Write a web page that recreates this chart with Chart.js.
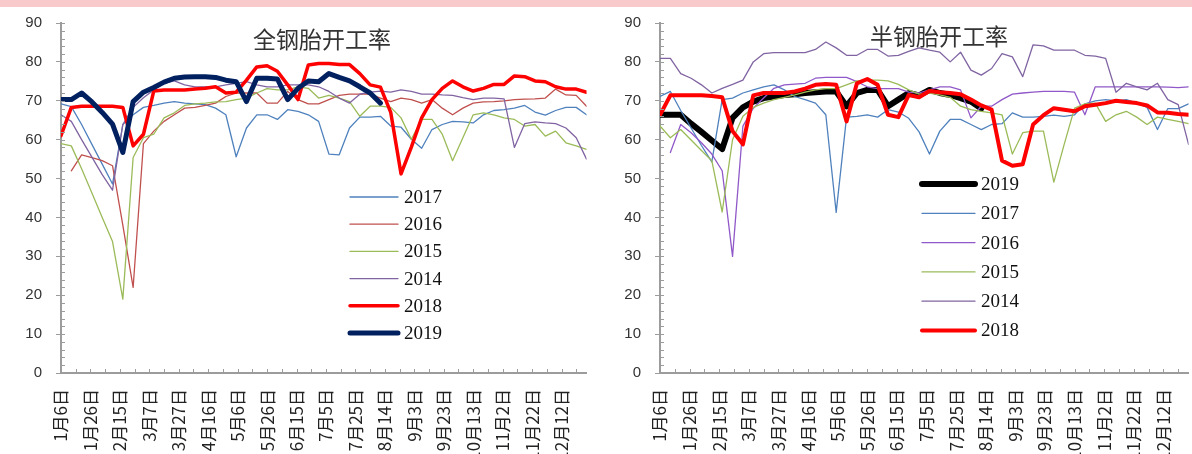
<!DOCTYPE html>
<html>
<head>
<meta charset="utf-8">
<script src="https://cdn.jsdelivr.net/npm/chart.js"></script>
<style>
    html, body { margin: 0; padding: 0; overflow: hidden; background: #fff; }
    body { position: relative; width: 1192px; height: 454px; }
    #band { position: absolute; left: 0; top: 0; width: 1192px; height: 7px; background: #F8CACC; z-index: 2; }
    canvas { position: absolute; top: 0; }
</style>
</head>
<body>
<div id="band"></div>
<canvas id="allSteelChart" width="598" height="454" style="left:0"></canvas>
<canvas id="semiSteelChart" width="600" height="454" style="left:600px"></canvas>
<script>
// Semanas (dia do ano) e rótulos do eixo X
const weekDays = [6, 13, 20, 27, 34, 41, 48, 55, 62, 69, 76, 83, 90, 97, 104, 111, 118, 125, 132, 139,
    146, 153, 160, 167, 174, 181, 188, 195, 202, 209, 216, 223, 230, 237, 244, 251, 258, 265, 272, 279,
    286, 293, 300, 307, 314, 321, 328, 335, 342, 349, 356, 363];
const tickDays = [6, 26, 46, 66, 86, 106, 126, 146, 166, 186, 206, 226, 246, 266, 286, 306, 326, 346];
const tickLabels = ['1月6日', '1月26日', '2月15日', '3月7日', '3月27日', '4月16日', '5月6日', '5月26日', '6月15日',
    '7月5日', '7月25日', '8月14日', '9月3日', '9月23日', '10月13日', '11月2日', '11月22日', '12月12日'];
const yTicks = [0, 10, 20, 30, 40, 50, 60, 70, 80, 90];

// 全钢胎开工率
const all2017 = [69.2, 68.5, 63.9, 58.8, 53.7, 48.6, 63.9, 66.4, 68.3, 68.8, 69.4, 69.8, 69.4, 69.2, 69.0, 68.1, 66.4, 55.6, 63.0, 66.4,
    66.4, 65.2, 67.7, 67.3, 66.4, 64.7, 56.3, 56.1, 63.0, 65.8, 65.8, 66.0, 63.5, 63.2, 60.1, 57.8, 62.6, 63.9, 64.7, 64.6,
    64.3, 66.4, 67.5, 67.7, 68.1, 68.8, 67.1, 66.3, 67.5, 68.3, 68.3, 66.4];
const all2016 = [null, 52.0, 56.1, 55.4, 54.6, 53.3, 38.0, 22.0, 59.0, 62.2, 64.7, 66.4, 68.1, 68.3, 68.8, 69.4, 71.1, 72.0, 72.0, 72.0,
    69.4, 69.4, 72.4, 70.3, 69.2, 69.2, 70.3, 71.4, 71.7, 71.7, 71.7, 70.7, 69.8, 70.7, 70.3, 69.4, 70.3, 68.1, 66.4, 68.1,
    69.4, 69.7, 69.8, 70.0, 70.3, 70.4, 70.5, 70.7, 73.0, 71.5, 71.4, 68.6];
const all2015 = [59.0, 58.4, 52.5, 46.3, 40.0, 33.8, 19.0, 55.4, 60.5, 61.4, 65.6, 66.9, 68.8, 69.2, 69.4, 69.7, 69.8, 70.3, 70.7, 72.0,
    73.1, 72.8, 72.8, 73.6, 73.2, 70.7, 71.4, 70.7, 69.8, 66.0, 68.6, 68.6, 68.3, 65.6, 60.1, 65.2, 65.2, 61.4, 54.6, 60.5,
    66.4, 66.9, 66.4, 65.6, 65.2, 63.5, 63.9, 60.9, 62.2, 59.2, 58.4, 57.5];
const all2014 = [66.4, 64.7, 60.0, 55.5, 51.0, 47.0, 63.9, 68.3, 70.8, 72.8, 74.5, 75.1, 74.1, 73.6, 73.6, 73.6, 74.1, 74.5, 74.9, 74.1,
    73.6, 73.6, 74.1, 74.1, 74.1, 73.6, 72.4, 70.7, 69.4, 71.7, 72.2, 72.5, 72.2, 72.8, 72.4, 71.7, 71.7, 71.5, 71.4, 70.8,
    70.3, 70.7, 70.7, 70.5, 58.0, 64.1, 64.6, 64.3, 64.1, 63.0, 60.5, 55.0];
const all2018 = [61.0, 68.3, 68.6, 68.6, 68.6, 68.6, 68.3, 58.4, 61.4, 72.5, 72.8, 72.8, 72.8, 73.0, 73.2, 73.6, 72.0, 72.2, 75.3, 78.7,
    79.0, 77.6, 74.1, 70.3, 79.2, 79.6, 79.6, 79.3, 79.3, 77.0, 74.1, 73.5, 67.0, 51.2, 58.1, 65.6, 70.3, 73.2, 75.1, 73.6,
    72.5, 73.2, 74.2, 74.2, 76.4, 76.2, 75.1, 74.9, 73.6, 73.0, 73.0, 72.2];
const all2019 = [70.3, 70.3, 72.0, 69.7, 67.0, 64.0, 56.7, 69.8, 72.2, 73.4, 74.8, 75.8, 76.1, 76.2, 76.2, 76.0, 75.3, 74.9, 69.8, 75.8,
    75.8, 75.6, 70.3, 73.2, 75.1, 74.9, 77.0, 76.0, 75.1, 73.6, 72.0, 69.4];

// 半钢胎开工率
const semi2019 = [66.4, 66.4, 66.4, 64.1, 62.0, 59.8, 57.6, 65.6, 68.3, 69.8, 70.7, 71.1, 71.5, 71.7, 72.0, 72.2, 72.4, 72.4, 68.6, 72.0,
    72.8, 72.8, 68.6, 70.3, 72.0, 71.4, 72.8, 72.0, 71.5, 70.7, 69.8, 68.0];
const semi2017 = [71.1, 72.4, 67.5, 63.0, 58.5, 54.3, 70.3, 70.7, 72.0, 72.8, 73.6, 74.1, 72.8, 71.1, 70.3, 69.4, 66.4, 41.3, 65.8, 66.0,
    66.4, 65.8, 67.7, 67.1, 65.5, 62.0, 56.3, 62.2, 65.2, 65.2, 63.9, 62.6, 63.9, 64.1, 66.9, 65.8, 65.8, 66.0, 66.3, 66.0,
    66.4, 69.2, 70.0, 70.3, 70.0, 70.3, 69.4, 68.3, 62.6, 68.0, 68.0, 69.2];
const semi2016 = [null, 56.7, 63.9, 61.8, 59.2, 56.3, 52.0, 30.0, 63.5, 68.1, 70.7, 73.2, 74.1, 74.3, 74.5, 75.8, 76.0, 76.0, 76.0, 74.9,
    73.6, 73.1, 73.1, 73.1, 72.2, 72.0, 72.8, 73.6, 73.6, 72.8, 65.6, 68.6, 68.6, 70.3, 71.7, 72.0, 72.2, 72.4, 72.4, 72.4,
    72.2, 66.4, 73.6, 73.6, 73.6, 73.6, 73.6, 73.6, 73.6, 73.5, 73.4, 73.6];
const semi2015 = [63.5, 60.5, 62.6, 59.9, 57.2, 54.6, 41.4, 60.0, 66.0, 68.3, 69.4, 70.3, 70.9, 71.5, 72.2, 72.8, 73.1, 73.1, 74.1, 75.1,
    75.3, 75.3, 75.1, 74.2, 72.8, 71.7, 72.0, 71.5, 70.9, 68.6, 67.7, 67.3, 66.9, 66.4, 56.3, 61.8, 62.2, 62.2, 49.1, 58.8,
    68.1, 69.2, 69.4, 64.7, 66.4, 67.3, 65.8, 63.9, 65.8, 65.2, 64.7, 64.1];
const semi2014 = [80.9, 80.9, 77.0, 75.8, 74.1, 72.0, 73.2, 74.2, 75.3, 80.0, 82.1, 82.4, 82.4, 82.4, 82.4, 83.2, 85.1, 83.6, 81.7, 81.7,
    83.2, 83.2, 81.5, 81.7, 82.7, 83.6, 83.0, 82.5, 80.0, 82.5, 77.9, 76.6, 78.3, 82.1, 81.3, 76.2, 84.4, 84.1, 83.0, 83.0,
    83.0, 81.7, 81.5, 80.9, 72.2, 74.5, 73.6, 72.8, 74.5, 70.3, 69.0, 58.8];
const semi2018 = [66.3, 71.4, 71.4, 71.4, 71.4, 71.2, 70.9, 62.2, 58.8, 71.4, 72.0, 72.0, 72.0, 72.4, 73.1, 74.1, 74.3, 74.1, 64.7, 74.5,
    75.6, 74.1, 66.4, 65.8, 71.5, 70.9, 72.5, 72.2, 72.0, 71.7, 70.3, 68.8, 67.7, 54.6, 53.3, 53.7, 63.9, 66.3, 68.1, 67.7,
    67.3, 68.6, 69.0, 69.4, 70.0, 69.7, 69.4, 68.8, 67.0, 66.9, 66.6, 66.4];

const axisColor = '#9C9C9C';

// Junta dias e valores em pontos {x, y}
function toPoints(values) {
    return values.map((v, i) => ({ x: weekDays[i], y: v }));
}

function series(label, values, color, width) {
    return {
        label: label,
        data: toPoints(values),
        borderColor: color,
        backgroundColor: color,
        borderWidth: width,
        pointRadius: 0,
        tension: 0,
        fill: false,
        borderJoinStyle: 'round',
        borderCapStyle: 'round'
    };
}

// Plugin: marcas menores, título e legenda desenhados sobre a área do gráfico
const overlayPlugin = {
    id: 'overlay',
    afterDraw(chart, args, opts) {
        const ctx = chart.ctx;
        const xs = chart.scales.x;
        const ys = chart.scales.y;
        const area = chart.chartArea;
        ctx.save();
        ctx.strokeStyle = axisColor;
        ctx.lineWidth = 1;
        ctx.beginPath();
        for (let v = 0; v <= 90; v += 2) {
            const py = Math.round(ys.getPixelForValue(v)) + 0.5;
            ctx.moveTo(area.left, py);
            ctx.lineTo(area.left + 4, py);
        }
        for (let d = 6; d <= 363; d += 10) {
            const px = Math.round(xs.getPixelForValue(d)) + 0.5;
            ctx.moveTo(px, area.bottom);
            ctx.lineTo(px, area.bottom - 4);
        }
        ctx.stroke();

        ctx.fillStyle = '#333';
        ctx.font = '23px "Noto Sans CJK SC"';
        ctx.textAlign = 'center';
        ctx.textBaseline = 'middle';
        ctx.fillText(opts.title, opts.titleX, opts.titleY);

        ctx.font = '19px "Liberation Serif"';
        ctx.textAlign = 'left';
        opts.legendOrder.forEach((label, k) => {
            const ds = chart.data.datasets.find(d => d.label === label);
            const y = opts.legendY + k * opts.legendStep;
            ctx.strokeStyle = ds.borderColor;
            ctx.lineWidth = ds.borderWidth;
            ctx.lineCap = 'round';
            ctx.beginPath();
            ctx.moveTo(opts.legendX, y);
            ctx.lineTo(opts.legendX + opts.legendLen, y);
            ctx.stroke();
            ctx.fillStyle = '#111';
            ctx.fillText(label, opts.legendX + opts.legendLen + 6, y + 1);
        });
        ctx.restore();
    }
};

function createChart(canvasId, datasets, overlay, padRight) {
    const ctx = document.getElementById(canvasId).getContext('2d');
    return new Chart(ctx, {
        type: 'line',
        data: { datasets: datasets },
        plugins: [overlayPlugin],
        options: {
            responsive: false,
            animation: false,
            events: [],
            layout: { padding: { top: 19, right: padRight, left: 0, bottom: 0 } },
            plugins: {
                legend: { display: false },
                title: { display: false },
                tooltip: { enabled: false },
                overlay: overlay
            },
            scales: {
                x: {
                    type: 'linear',
                    min: 6,
                    max: 363,
                    afterBuildTicks: (scale) => { scale.ticks = tickDays.map(v => ({ value: v })); },
                    afterFit: (scale) => { scale.height = 81; },
                    ticks: {
                        autoSkip: false,
                        minRotation: 90,
                        maxRotation: 90,
                        padding: 16,
                        color: '#222',
                        font: { family: '"Noto Sans CJK SC"', size: 17 },
                        callback: (value, index) => tickLabels[index]
                    },
                    grid: { drawOnChartArea: false, drawTicks: false },
                    border: { color: axisColor, width: 2 }
                },
                y: {
                    min: 0,
                    max: 90,
                    afterBuildTicks: (scale) => { scale.ticks = yTicks.map(v => ({ value: v })); },
                    afterFit: (scale) => { scale.width = overlay.axisWidth; },
                    ticks: {
                        padding: 14,
                        color: '#333',
                        font: { family: '"Liberation Sans"', size: 15 }
                    },
                    grid: { drawOnChartArea: false, tickLength: 5, color: axisColor },
                    border: { color: axisColor, width: 2 }
                }
            }
        }
    });
}

document.addEventListener('DOMContentLoaded', function() {
    // Chart.js desenha o primeiro dataset por cima
    createChart('allSteelChart', [
        series('2019', all2019, '#002060', 5),
        series('2018', all2018, '#FF0000', 3.5),
        series('2014', all2014, '#8064A2', 1.3),
        series('2015', all2015, '#9BBB59', 1.3),
        series('2016', all2016, '#C0504D', 1.3),
        series('2017', all2017, '#4F81BD', 1.3)
    ], {
        title: '全钢胎开工率', titleX: 322, titleY: 39,
        legendOrder: ['2017', '2016', '2015', '2014', '2018', '2019'],
        legendX: 350, legendY: 197, legendStep: 27.2, legendLen: 48,
        axisWidth: 61
    }, 2);

    createChart('semiSteelChart', [
        series('2018', semi2018, '#FF0000', 4),
        series('2014', semi2014, '#8064A2', 1.3),
        series('2015', semi2015, '#9BBB59', 1.3),
        series('2016', semi2016, '#9058C8', 1.3),
        series('2017', semi2017, '#4F81BD', 1.3),
        series('2019', semi2019, '#000000', 6)
    ], {
        title: '半钢胎开工率', titleX: 339, titleY: 36,
        legendOrder: ['2019', '2017', '2016', '2015', '2014', '2018'],
        legendX: 322, legendY: 184, legendStep: 29.3, legendLen: 53,
        axisWidth: 60
    }, 4.5);
});
</script>
</body>
</html>
